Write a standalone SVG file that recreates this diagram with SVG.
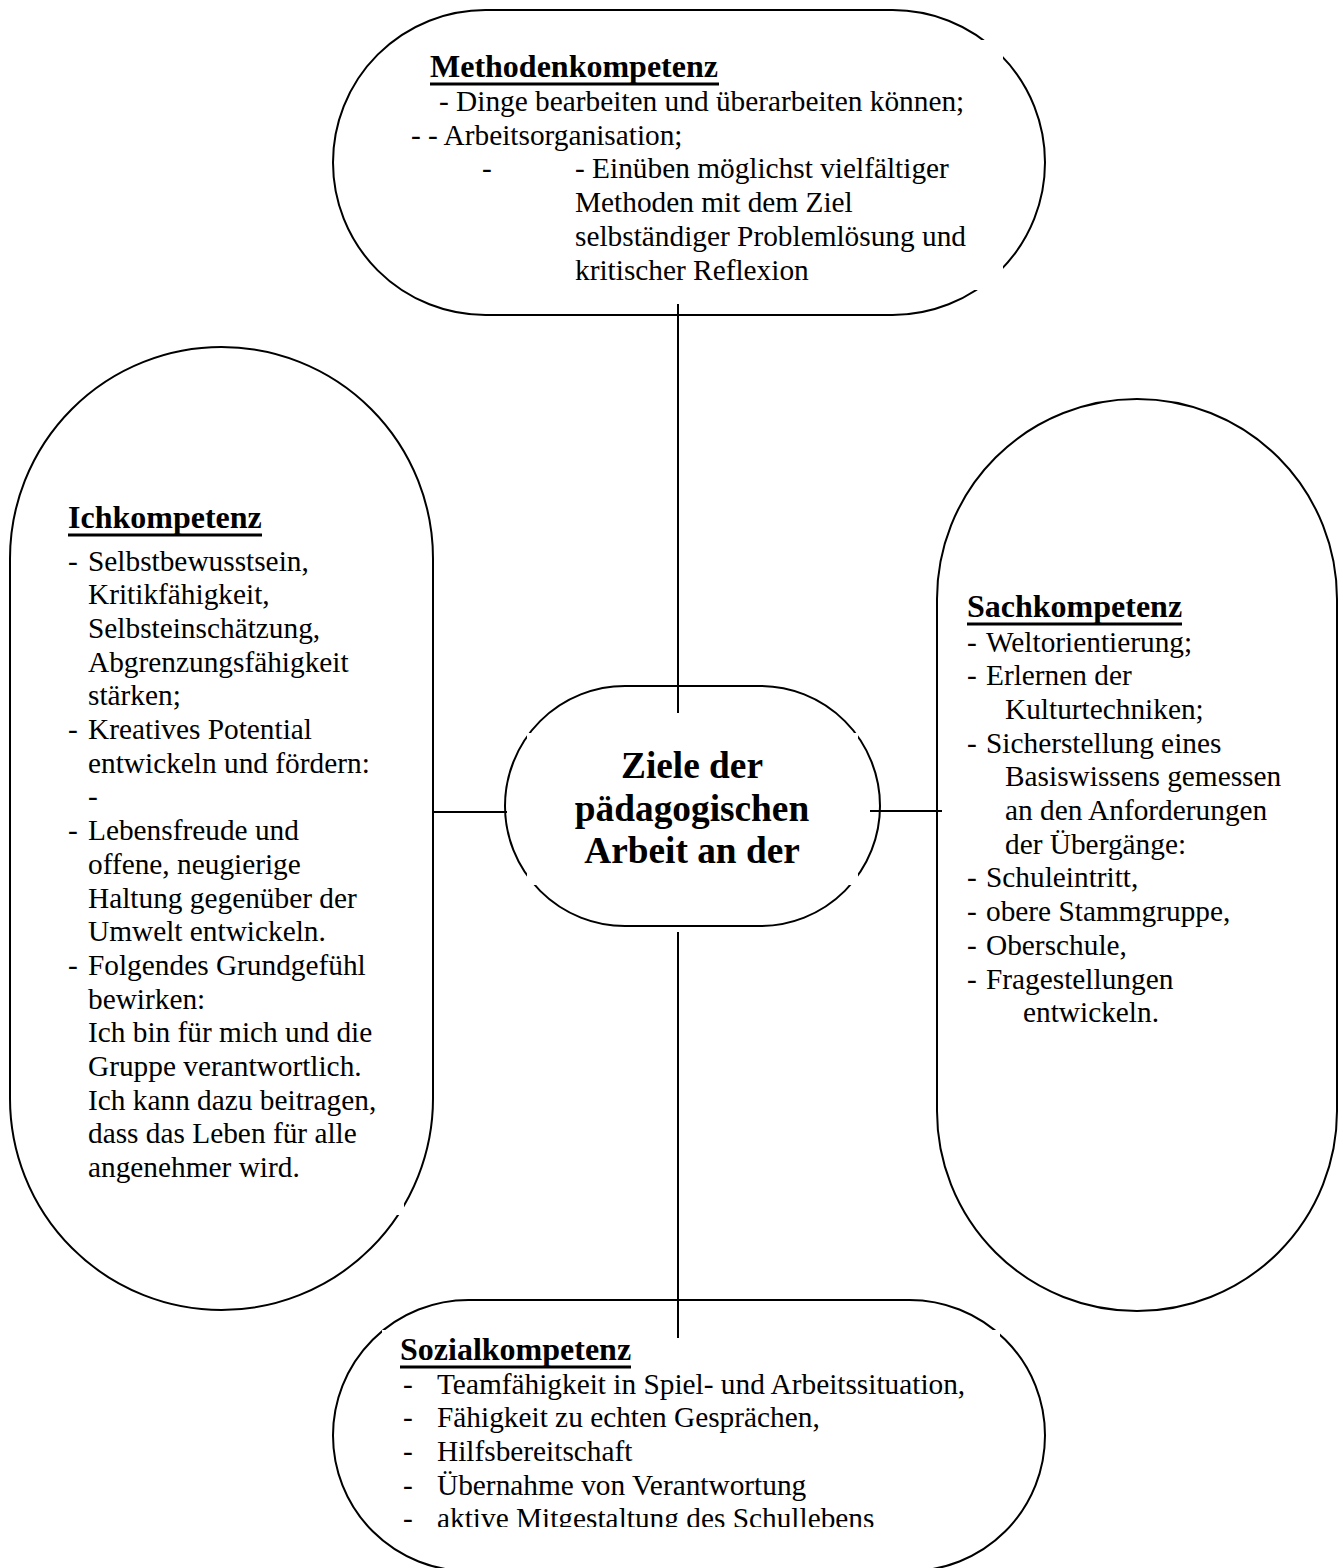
<svg xmlns="http://www.w3.org/2000/svg" width="1343" height="1568" viewBox="0 0 1343 1568">
<defs>
<style>
.shape{fill:#fff;stroke:#000;stroke-width:2}
.box{fill:#fff;stroke:none}
.t{font-family:"Liberation Serif","Times New Roman",serif;font-size:29.33px;fill:#000}
.h{font-weight:bold;font-size:32px}
.c{font-weight:bold;font-size:37.33px;text-anchor:middle}
.ul{fill:#000}
.conn line{stroke:#000;stroke-width:2}
</style>
<clipPath id="clipSozial"><rect x="382" y="1330" width="620" height="197"/></clipPath>
</defs>
<rect width="1343" height="1568" fill="#fff"/>

<g id="node-methoden">
<rect class="shape" x="333" y="10" width="712" height="305" rx="152.5" ry="152.5"/>
<rect class="box" x="410" y="40" width="593" height="250"/>
<text class="t h" x="430" y="77">Methodenkompetenz</text>
<rect class="ul" x="430" y="82.5" width="289" height="3"/>
<text class="t" x="439" y="111">- Dinge bearbeiten und überarbeiten können;</text>
<text class="t" x="411" y="144.7">- - Arbeitsorganisation;</text>
<text class="t" x="482" y="178.4">-</text>
<text class="t" x="575" y="178.4">- Einüben möglichst vielfältiger</text>
<text class="t" x="575" y="212.1">Methoden mit dem Ziel</text>
<text class="t" x="575" y="245.8">selbständiger Problemlösung und</text>
<text class="t" x="575" y="279.5">kritischer Reflexion</text>
</g>

<g id="node-center">
<rect class="shape" x="505" y="686" width="375" height="240" rx="120" ry="120"/>
<rect class="box" x="527" y="733" width="331" height="152"/>
<text class="t c" x="692" y="778">Ziele der</text>
<text class="t c" x="692" y="820.5">pädagogischen</text>
<text class="t c" x="692" y="863">Arbeit an der</text>
</g>

<g id="node-ich">
<rect class="shape" x="10" y="347" width="423" height="963" rx="211.5" ry="211.5"/>
<rect class="box" x="55" y="490" width="349" height="725"/>
<text class="t h" x="68" y="528">Ichkompetenz</text>
<rect class="ul" x="68" y="533.5" width="194" height="3"/>
<text class="t" x="68" y="570.5">-</text>
<text class="t" x="88" y="570.5">Selbstbewusstsein,</text>
<text class="t" x="88" y="604.2">Kritikfähigkeit,</text>
<text class="t" x="88" y="637.9">Selbsteinschätzung,</text>
<text class="t" x="88" y="671.6">Abgrenzungsfähigkeit</text>
<text class="t" x="88" y="705.3">stärken;</text>
<text class="t" x="68" y="739">-</text>
<text class="t" x="88" y="739">Kreatives Potential</text>
<text class="t" x="88" y="772.7">entwickeln und fördern:</text>
<text class="t" x="88" y="806.4">-</text>
<text class="t" x="68" y="840.1">-</text>
<text class="t" x="88" y="840.1">Lebensfreude und</text>
<text class="t" x="88" y="873.8">offene, neugierige</text>
<text class="t" x="88" y="907.5">Haltung gegenüber der</text>
<text class="t" x="88" y="941.2">Umwelt entwickeln.</text>
<text class="t" x="68" y="974.9">-</text>
<text class="t" x="88" y="974.9">Folgendes Grundgefühl</text>
<text class="t" x="88" y="1008.6">bewirken:</text>
<text class="t" x="88" y="1042.3">Ich bin für mich und die</text>
<text class="t" x="88" y="1076">Gruppe verantwortlich.</text>
<text class="t" x="88" y="1109.7">Ich kann dazu beitragen,</text>
<text class="t" x="88" y="1143.4">dass das Leben für alle</text>
<text class="t" x="88" y="1177.1">angenehmer wird.</text>
</g>

<g id="node-sach">
<rect class="shape" x="937" y="399" width="400" height="912" rx="200" ry="200"/>
<text class="t h" x="967" y="617">Sachkompetenz</text>
<rect class="ul" x="967" y="622.5" width="215" height="3"/>
<text class="t" x="967" y="651.5">-</text>
<text class="t" x="986" y="651.5">Weltorientierung;</text>
<text class="t" x="967" y="685.2">-</text>
<text class="t" x="986" y="685.2">Erlernen der</text>
<text class="t" x="1005" y="718.9">Kulturtechniken;</text>
<text class="t" x="967" y="752.6">-</text>
<text class="t" x="986" y="752.6">Sicherstellung eines</text>
<text class="t" x="1005" y="786.3">Basiswissens gemessen</text>
<text class="t" x="1005" y="820">an den Anforderungen</text>
<text class="t" x="1005" y="853.7">der Übergänge:</text>
<text class="t" x="967" y="887.4">-</text>
<text class="t" x="986" y="887.4">Schuleintritt,</text>
<text class="t" x="967" y="921.1">-</text>
<text class="t" x="986" y="921.1">obere Stammgruppe,</text>
<text class="t" x="967" y="954.8">-</text>
<text class="t" x="986" y="954.8">Oberschule,</text>
<text class="t" x="967" y="988.5">-</text>
<text class="t" x="986" y="988.5">Fragestellungen</text>
<text class="t" x="1023" y="1022.2">entwickeln.</text>
</g>

<g id="node-sozial">
<rect class="shape" x="333" y="1300" width="712" height="271" rx="135.5" ry="135.5"/>
<rect class="box" x="382" y="1330" width="618" height="197"/>
<text class="t h" x="400" y="1360">Sozialkompetenz</text>
<rect class="ul" x="400" y="1365.5" width="231" height="3"/>
<g clip-path="url(#clipSozial)">
<text class="t" x="403" y="1393.5">-</text>
<text class="t" x="437" y="1393.5">Teamfähigkeit in Spiel- und Arbeitssituation,</text>
<text class="t" x="403" y="1427.2">-</text>
<text class="t" x="437" y="1427.2">Fähigkeit zu echten Gesprächen,</text>
<text class="t" x="403" y="1460.9">-</text>
<text class="t" x="437" y="1460.9">Hilfsbereitschaft</text>
<text class="t" x="403" y="1494.6">-</text>
<text class="t" x="437" y="1494.6">Übernahme von Verantwortung</text>
<text class="t" x="403" y="1528.3">-</text>
<text class="t" x="437" y="1528.3">aktive Mitgestaltung des Schullebens</text>
</g>
</g>

<g id="connectors" class="conn">
<line x1="678" y1="304" x2="678" y2="713"/>
<line x1="678" y1="932" x2="678" y2="1338"/>
<line x1="433" y1="812" x2="507" y2="812"/>
<line x1="870" y1="811" x2="942" y2="811"/>
</g>
</svg>
